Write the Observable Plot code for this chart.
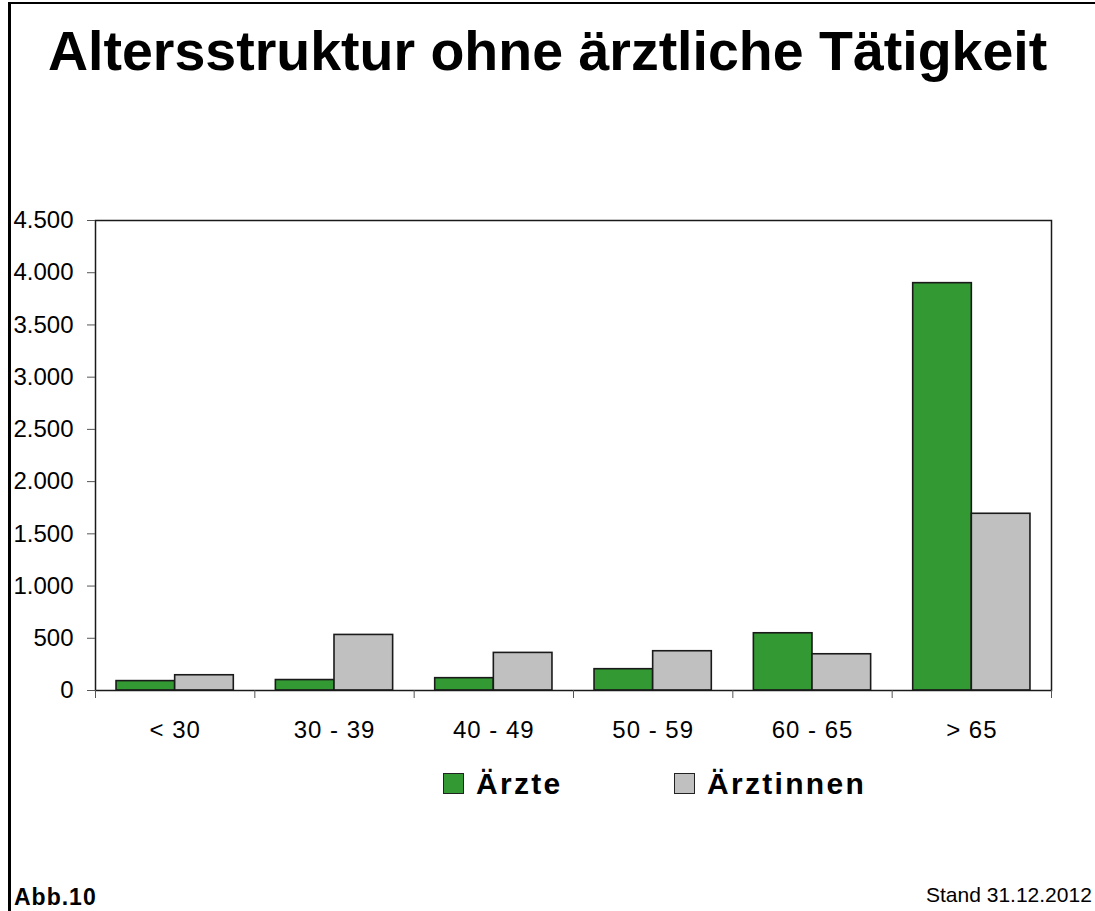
<!DOCTYPE html>
<html><head><meta charset="utf-8">
<script src="https://cdn.jsdelivr.net/npm/d3@7"></script>
<script src="https://cdn.jsdelivr.net/npm/@observablehq/plot@0.6"></script>
<style>
html,body{margin:0;padding:0;background:#fff;overflow:hidden;width:1095px;height:911px;font-family:"Liberation Sans",Arial,sans-serif;color:#000;}
#frame{position:absolute;left:8px;top:2px;width:1300px;height:1100px;border-left:3px solid #000;border-top:2px solid #000;}
.t{position:absolute;line-height:1;white-space:nowrap;margin:0;}
#title{left:48px;top:24px;font-size:55.5px;font-weight:bold;}
#chart{position:absolute;left:0;top:190px;}
.sw{position:absolute;width:19px;height:19px;border:1.5px solid #222;}
.lg{font-size:30px;font-weight:bold;letter-spacing:2.3px;}
#abb{left:14px;top:886px;font-size:23px;font-weight:bold;letter-spacing:1px;}
#stand{left:926px;top:884px;font-size:21px;}
.xl text{letter-spacing:1px;}
</style></head><body>
<div id="frame"></div>
<div class="t" id="title">Altersstruktur ohne ärztliche Tätigkeit</div>
<div id="chart"></div>
<div id="legend"></div>
<div class="t" id="abb">Abb.10</div>
<div class="t" id="stand">Stand 31.12.2012</div>
<script>
// ---- data ----
const categories = ["< 30", "30 - 39", "40 - 49", "50 - 59", "60 - 65", "> 65"];
const series = ["Ärzte", "Ärztinnen"];
const aerzte = [90, 100, 118, 204, 548, 3900];
const aerztinnen = [146, 532, 360, 376, 347, 1692];
const yTicks = [0, 500, 1000, 1500, 2000, 2500, 3000, 3500, 4000, 4500];
const colors = ["#339933", "#c0c0c0"];

// ---- build table ----
const gap = 0.132; // outer gap of each group, fraction of category width
const rows = [];
categories.forEach((c, i) => {
  rows.push({cat: c, i, s: series[0], v: aerzte[i], x1: i + gap, x2: i + 0.5});
  rows.push({cat: c, i, s: series[1], v: aerztinnen[i], x1: i + 0.5, x2: i + 1 - gap});
});

const de = d3.formatLocale({decimal: ",", thousands: ".", grouping: [3], currency: ["", "€"]});
const fmt = de.format(",d");

const plot = Plot.plot({
  width: 1095,
  height: 570,
  marginLeft: 95,
  marginRight: 44,
  marginTop: 30,
  marginBottom: 70,
  style: {fontFamily: "Liberation Sans, Arial, sans-serif", fontSize: "24px", background: "transparent", color: "#000"},
  x: {domain: [0, categories.length], axis: null},
  y: {domain: [0, 4500], axis: null},
  color: {domain: series, range: colors},
  marks: [
    Plot.rect(rows, {x1: "x1", x2: "x2", y1: 0, y2: "v", fill: "s", stroke: "#1a1a1a", strokeWidth: 1.6}),
    Plot.frame({stroke: "#1a1a1a", strokeWidth: 1.5}),
    Plot.axisY({ticks: yTicks, tickSize: 8, tickPadding: 14, tickFormat: fmt, label: null, stroke: "#555", fontSize: 24, fill: "#000"}),
    Plot.axisX({ticks: d3.range(0, categories.length + 1), tickSize: 8, tickFormat: () => "", label: null, stroke: "#555"}),
    Plot.axisX({ticks: categories.map((c, i) => i + 0.5), tickSize: 0, tickPadding: 30, tickFormat: v => categories[Math.floor(v)], label: null, fontSize: 24, fill: "#000", className: "xl"})
  ]
});
document.getElementById("chart").appendChild(plot);

// ---- legend ----
const lg = document.getElementById("legend");
const legendPos = [{sx: 443, tx: 476}, {sx: 674, tx: 707}];
series.forEach((s, k) => {
  const sw = document.createElement("div");
  sw.className = "sw";
  sw.style.left = legendPos[k].sx + "px";
  sw.style.top = "773px";
  sw.style.background = colors[k];
  lg.appendChild(sw);
  const t = document.createElement("div");
  t.className = "t lg";
  t.style.left = legendPos[k].tx + "px";
  t.style.top = "768.6px";
  t.textContent = s;
  lg.appendChild(t);
});
</script>
</body></html>
